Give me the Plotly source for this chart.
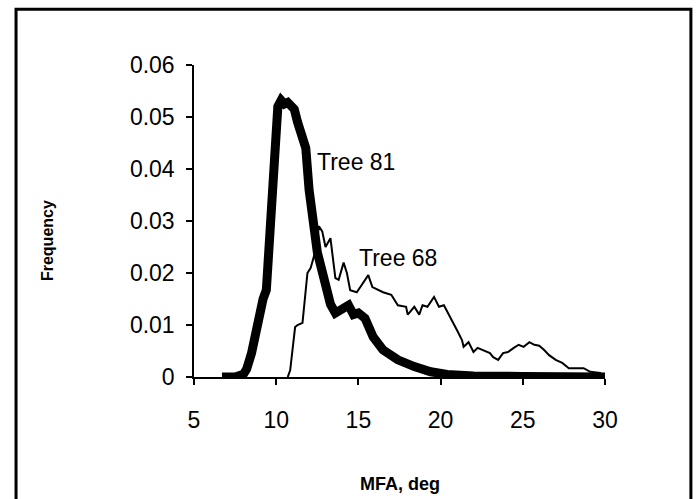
import plotly.graph_objects as go

# ---- data ----
tree81_x = [6.7, 7.5, 8.0, 8.2, 8.5, 8.8, 9.0, 9.2, 9.4, 9.6, 9.9, 10.1, 10.3, 10.5, 10.7, 10.9,
            11.1, 11.3, 11.5, 11.8, 12.0, 12.2, 12.5, 12.9, 13.3, 13.6, 13.9, 14.2, 14.4, 14.7,
            15.0, 15.4, 15.9, 16.5, 17.4, 18.4, 19.4, 20.4, 22.0, 25.0, 28.0, 30.0]
tree81_y = [0, 0, 0.0005, 0.0015, 0.0046, 0.010, 0.0135, 0.015, 0.0167, 0.027, 0.038, 0.052,
            0.0532, 0.0525, 0.0528, 0.052, 0.0515, 0.049, 0.047, 0.044, 0.036, 0.0296, 0.024,
            0.019, 0.014, 0.0123, 0.013, 0.0135, 0.0138, 0.012, 0.0123, 0.0113, 0.0077, 0.0052,
            0.0033, 0.002, 0.001, 0.0005, 0.0002, 0.0001, 0.0001, 0]

tree68_x = [10.7, 10.85, 11.15, 11.3, 11.6, 11.9, 12.1, 12.4, 12.6, 12.8, 13.0, 13.3, 13.6, 13.8,
            14.1, 14.3, 14.5, 14.9, 15.2, 15.6, 15.85, 16.2, 16.5, 17.0, 17.4, 17.9, 18.0, 18.4,
            18.7, 18.9, 19.2, 19.6, 19.9, 20.2, 20.6, 21.0, 21.3, 21.4, 21.7, 22.0, 22.25, 22.6,
            23.0, 23.2, 23.5, 23.8, 24.1, 24.45, 24.75, 25.05, 25.4, 25.7, 26.0, 26.3, 26.6,
            27.0, 27.4, 27.8, 28.2, 28.7, 29.1, 29.7, 30.0]
tree68_y = [0, 0.0013, 0.0096, 0.0100, 0.0104, 0.020, 0.021, 0.0244, 0.029, 0.028, 0.025, 0.0267,
            0.019, 0.0187, 0.022, 0.020, 0.0167, 0.0163, 0.0177, 0.0196, 0.0173, 0.0167, 0.0163,
            0.0158, 0.0138, 0.0135, 0.012, 0.0135, 0.012, 0.0138, 0.0135, 0.0154, 0.0135, 0.0138,
            0.0115, 0.009, 0.0071, 0.0058, 0.0067, 0.0048, 0.0056, 0.0052, 0.0046, 0.0038,
            0.0033, 0.0046, 0.0048, 0.0056, 0.0062, 0.0058, 0.0067, 0.0062, 0.006, 0.0052,
            0.0042, 0.0033, 0.0027, 0.0017, 0.0017, 0.0017, 0.001, 0.0008, 0]

x_ticks = [5, 10, 15, 20, 25, 30]
x_ticktext = ["5", "10", "15", "20", "25", "30"]
y_ticks = [0, 0.01, 0.02, 0.03, 0.04, 0.05, 0.06]
y_ticktext = ["0", "0.01", "0.02", "0.03", "0.04", "0.05", "0.06"]

FONT = "Arial, Liberation Sans, sans-serif"

fig = go.Figure()
fig.add_trace(go.Scatter(x=tree68_x, y=tree68_y, mode="lines", name="Tree 68",
                         line=dict(color="black", width=2), showlegend=False))
fig.add_trace(go.Scatter(x=tree81_x, y=tree81_y, mode="lines", name="Tree 81",
                         line=dict(color="black", width=9), showlegend=False))

fig.add_annotation(x=12.36, y=0.0413, text="Tree 81", showarrow=False, xanchor="left",
                   yanchor="middle", font=dict(family=FONT, size=23, color="black"))
fig.add_annotation(x=14.9, y=0.0229, text="Tree 68", showarrow=False, xanchor="left",
                   yanchor="middle", font=dict(family=FONT, size=23, color="black"))

fig.add_annotation(xref="paper", yref="paper", x=-0.355, y=0.436, text="<b>Frequency</b>",
                   textangle=-90, showarrow=False, xanchor="center", yanchor="middle",
                   font=dict(family=FONT, size=16, color="black"))
fig.add_annotation(xref="paper", yref="paper", x=0.5, y=-0.343, text="<b>MFA, deg</b>",
                   showarrow=False, xanchor="center", yanchor="middle",
                   font=dict(family=FONT, size=18, color="black"))

fig.add_shape(type="rect", xref="paper", yref="paper", x0=-0.433, x1=1.209, y0=-0.45, y1=1.179,
              line=dict(color="black", width=3), fillcolor="rgba(0,0,0,0)")

fig.update_xaxes(range=[5, 30], tickvals=x_ticks, ticktext=x_ticktext, showline=True,
                 linecolor="black", linewidth=1.5, ticks="outside", ticklen=6, tickwidth=1.5,
                 tickcolor="black", showgrid=False, zeroline=False,
                 tickfont=dict(family=FONT, size=23, color="black"), ticklabelstandoff=16)
fig.update_yaxes(range=[0, 0.06], tickvals=y_ticks, ticktext=y_ticktext, showline=True,
                 linecolor="black", linewidth=1.5, ticks="outside", ticklen=6, tickwidth=1.5,
                 tickcolor="black", showgrid=False, zeroline=False,
                 tickfont=dict(family=FONT, size=23, color="black"), ticklabelstandoff=7)

fig.update_layout(width=697, height=499, autosize=False,
                  margin=dict(l=194, r=92, t=65, b=122),
                  paper_bgcolor="white", plot_bgcolor="white")

fig.write_html("out.html")
